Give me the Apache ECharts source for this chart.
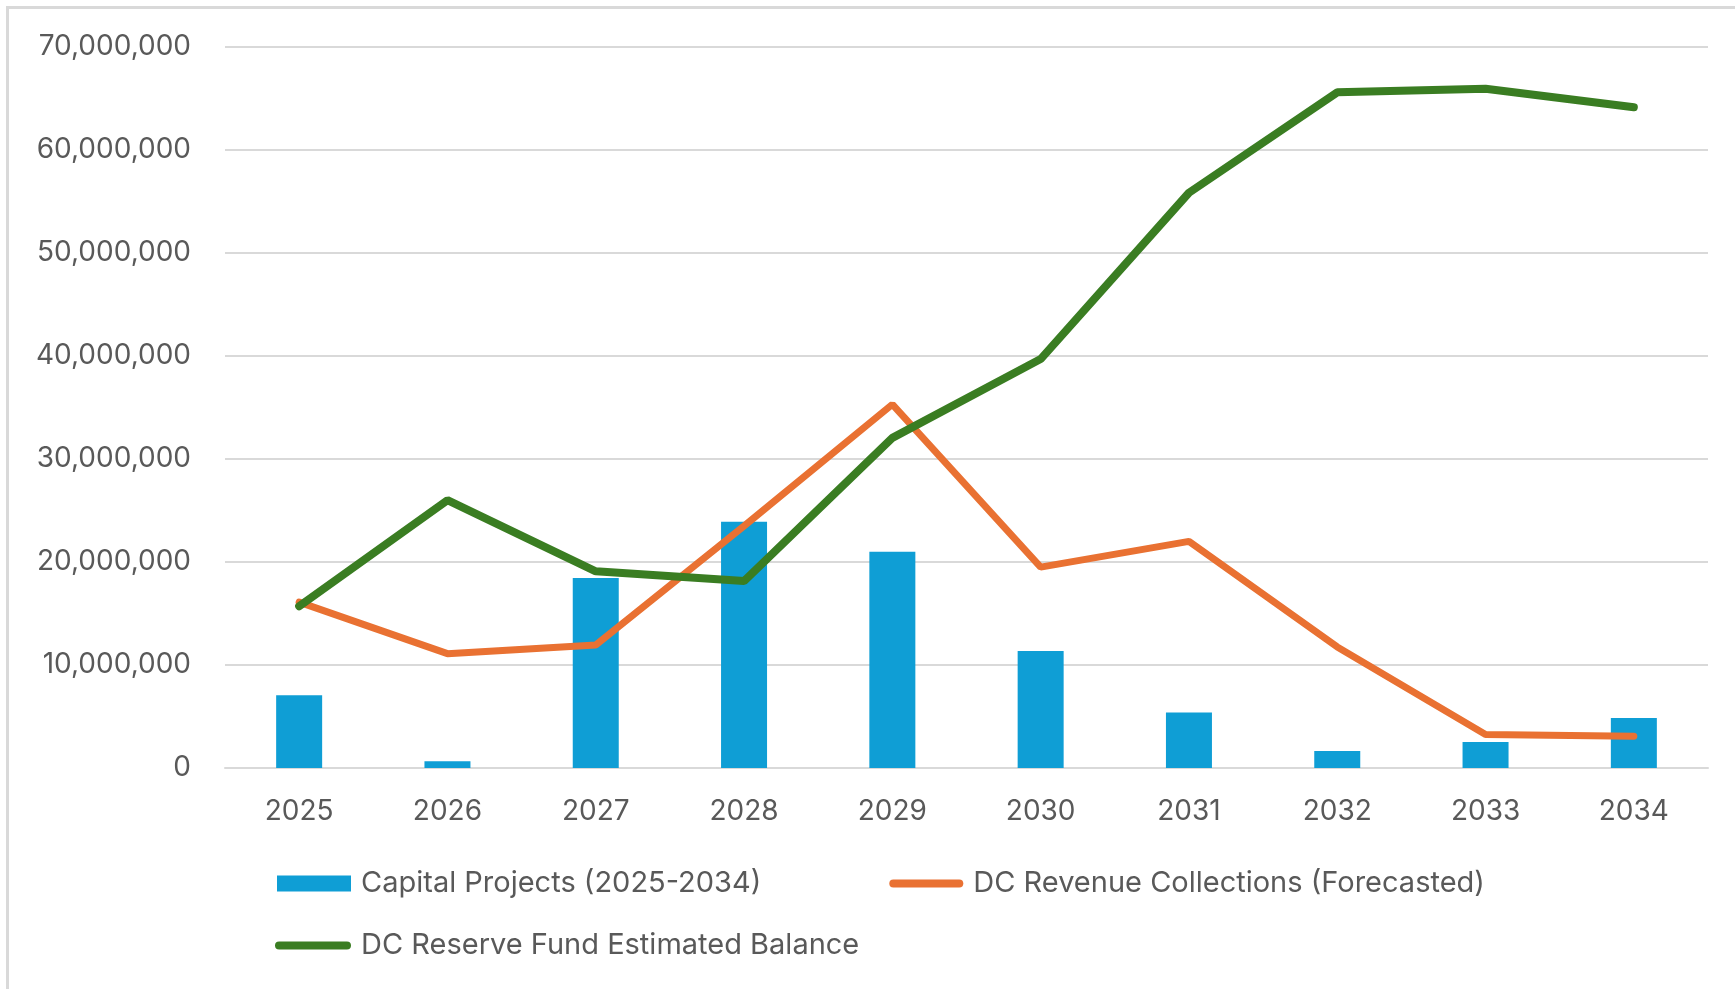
<!DOCTYPE html>
<html>
<head>
<meta charset="utf-8">
<script src="https://cdn.jsdelivr.net/npm/echarts@6/dist/echarts.min.js"></script>
<style>
  html, body { margin: 0; padding: 0; background: #ffffff; }
  #chart { width: 1735px; height: 989px; }
</style>
</head>
<body>
<div id="chart"></div>
<script>
const categories = ['2025', '2026', '2027', '2028', '2029', '2030', '2031', '2032', '2033', '2034'];
const capitalProjects = [7060000, 650000, 18450000, 23900000, 21000000, 11370000, 5380000, 1650000, 2530000, 4860000];
const revenueCollections = [16100000, 11100000, 11950000, 23500000, 35300000, 19500000, 22000000, 11750000, 3250000, 3080000];
const reserveBalance = [15700000, 26000000, 19100000, 18150000, 32050000, 39700000, 55850000, 65600000, 65950000, 64150000];
const seriesNames = ['Capital Projects (2025-2034)', 'DC Revenue Collections (Forecasted)', 'DC Reserve Fund Estimated Balance'];
const yMin = 0, yMax = 70000000, yInterval = 10000000;

const FONT = 'Inter';
const PILL = 'path://M4,0 H70 A4,4 0 0 1 70,8 H4 A4,4 0 0 1 4,0 Z';
const legendText = { fontFamily: FONT, fontSize: 29, color: '#595959', padding: [0, 0, 0, 5] };
const chart = echarts.init(document.getElementById('chart'), null, { renderer: 'canvas' });
chart.setOption({
  animation: false,
  backgroundColor: '#ffffff',
  textStyle: { fontFamily: FONT },
  graphic: [{
    type: 'rect', left: 5, top: 5, silent: true, z: -10,
    shape: { width: 1800, height: 1100 },
    style: { fill: 'none', stroke: '#d9d9d9', lineWidth: 3 }
  }],
  grid: { left: 225, right: 27, top: 47, bottom: 221, containLabel: false },
  legend: [{
    data: [
      { name: seriesNames[0], icon: 'rect' },
      { name: seriesNames[1], icon: PILL, itemStyle: { color: '#E97132' } }
    ],
    left: 277, top: 869, padding: 0,
    itemWidth: 74, itemHeight: 16, itemGap: 128,
    textStyle: legendText
  }, {
    data: [{ name: seriesNames[2], icon: PILL, itemStyle: { color: '#3A7D22' } }],
    left: 275, top: 931, padding: 0,
    itemWidth: 76, itemHeight: 16,
    textStyle: legendText
  }],
  xAxis: {
    type: 'category',
    data: categories,
    axisLine: { show: true, lineStyle: { color: '#d9d9d9', width: 2 } },
    axisTick: { show: false },
    axisLabel: { fontFamily: FONT, fontSize: 28, color: '#595959', margin: 30 }
  },
  yAxis: {
    type: 'value',
    min: yMin, max: yMax, interval: yInterval,
    axisLine: { show: false },
    axisTick: { show: false },
    splitLine: { lineStyle: { color: '#d9d9d9', width: 2 } },
    axisLabel: {
      fontFamily: FONT, fontSize: 28, color: '#595959', margin: 34,
      formatter: v => v.toLocaleString('en-US')
    }
  },
  series: [{
    name: seriesNames[0],
    type: 'bar',
    data: capitalProjects,
    barWidth: 46,
    itemStyle: { color: '#0F9ED5' },
    z: 1
  }, {
    name: seriesNames[1],
    type: 'line',
    data: revenueCollections,
    symbol: 'none',
    lineStyle: { color: '#E97132', width: 7, cap: 'round' },
    itemStyle: { color: '#E97132' },
    z: 3
  }, {
    name: seriesNames[2],
    type: 'line',
    data: reserveBalance,
    symbol: 'none',
    lineStyle: { color: '#3A7D22', width: 8, cap: 'round' },
    itemStyle: { color: '#3A7D22' },
    z: 4
  }]
});
</script>
</body>
</html>
